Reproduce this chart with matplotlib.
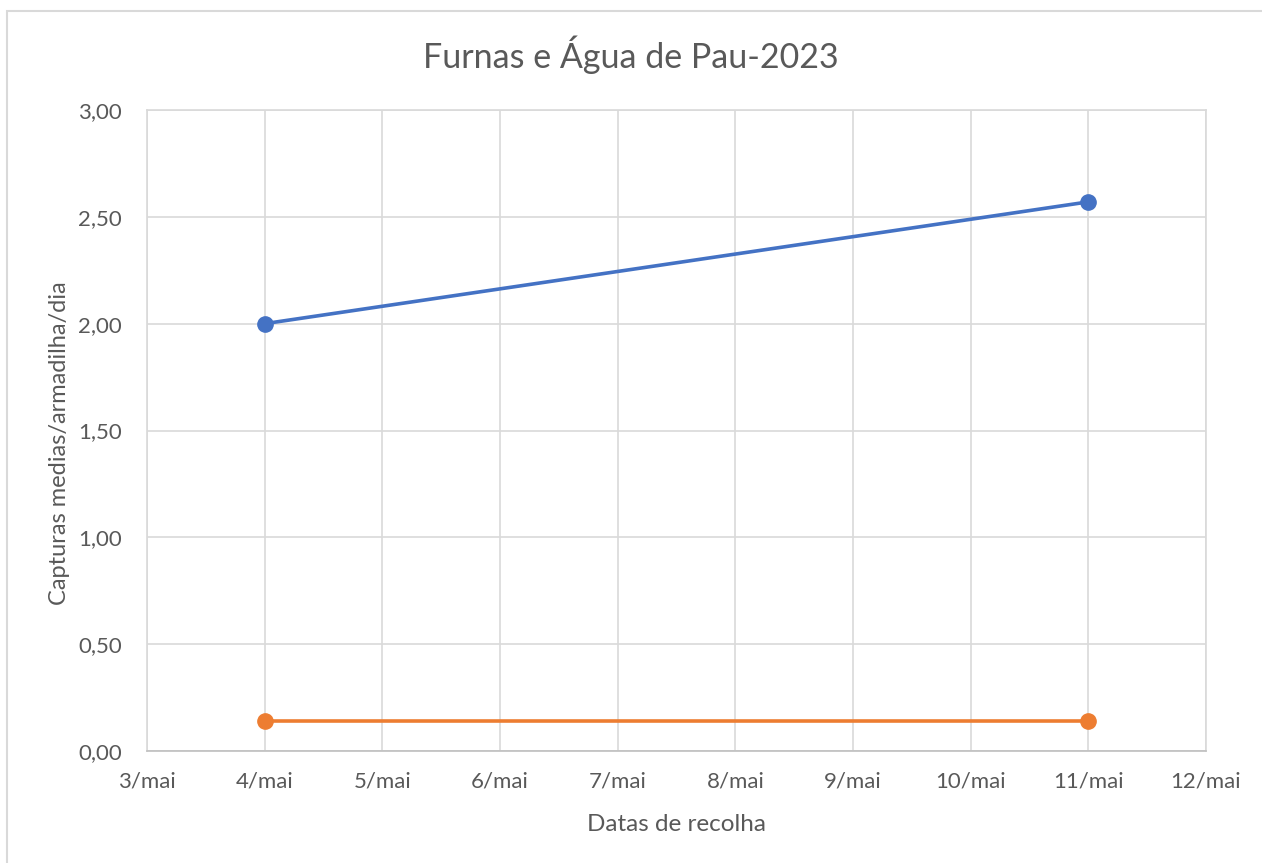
import matplotlib.pyplot as plt
from matplotlib.patches import Rectangle

plt.rcParams['font.family'] = ['Lato', 'DejaVu Sans']

days = [3, 4, 5, 6, 7, 8, 9, 10, 11, 12]
day_labels = [f"{d}/mai" for d in days]
x_dates = [4, 11]
serie_azul = [2.00, 2.57]
serie_laranja = [0.14, 0.14]

txt = '#595959'
grid = '#D9D9D9'

fig = plt.figure(figsize=(12.62, 8.63), dpi=100)
ax = fig.add_axes([147/1262, 1 - 751/863, (1206-147)/1262, (751-110)/863])

ax.plot(x_dates, serie_azul, color='#4472C4', lw=2.6, marker='o', ms=11, zorder=3)
ax.plot(x_dates, serie_laranja, color='#ED7D31', lw=2.6, marker='o', ms=11, zorder=3)

ax.set_xlim(3, 12)
ax.set_ylim(0, 3)
ax.set_xticks(days, day_labels)
ax.set_yticks([0, 0.5, 1, 1.5, 2, 2.5, 3],
              ['0,00', '0,50', '1,00', '1,50', '2,00', '2,50', '3,00'])
ax.grid(True, color=grid, lw=1.2)
ax.set_axisbelow(True)
for s in ax.spines.values():
    s.set_color(grid)
    s.set_linewidth(1.2)
ax.spines['bottom'].set_color('#BFBFBF')
ax.tick_params(length=0, labelsize=16, colors=txt, pad=18)
ax.tick_params(axis='x', pad=15)

ax.set_xlabel('Datas de recolha', fontsize=17.5, color=txt, labelpad=16)
ax.set_ylabel('Capturas medias/armadilha/dia', fontsize=17, color=txt)
ax.yaxis.set_label_coords(-(147 - 70) / 1059, 0.48)
fig.text(0.5, 1 - 55/863, 'Furnas e Água de Pau-2023', ha='center', va='center',
         fontsize=24.5, color=txt)

# moldura do gráfico
fig.patches.append(Rectangle((7/1262, -0.01), 1.0, 1 - 11/863 + 0.01,
                             transform=fig.transFigure, fill=False,
                             edgecolor='#D9D9D9', lw=1.5))

fig.savefig('out.png', dpi=100)
